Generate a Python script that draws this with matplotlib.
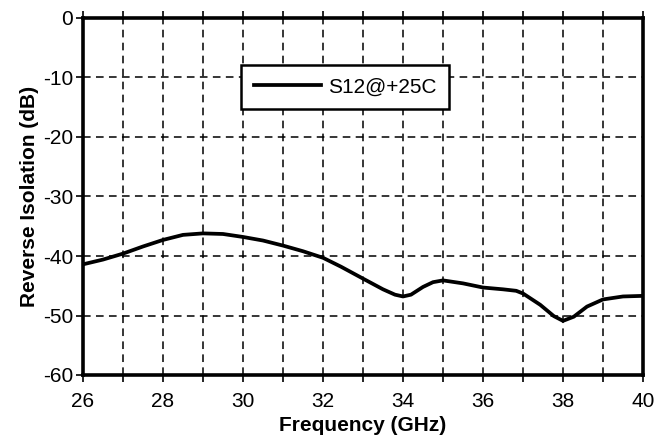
import numpy as np
import matplotlib.pyplot as plt

plt.rcParams['font.family'] = ['Liberation Sans', 'DejaVu Sans']
plt.rcParams['axes.unicode_minus'] = False

# S12 (GHz, dB)
freq = [26, 26.5, 27, 27.5, 28, 28.5, 29, 29.5, 30, 30.5, 31, 31.5, 32,
        32.45, 33, 33.5, 33.8, 34, 34.2, 34.5, 34.75, 35, 35.5, 36, 36.5,
        36.83, 37, 37.43, 37.77, 38, 38.27, 38.6, 39, 39.5, 40]
s12 = [-41.4, -40.6, -39.6, -38.4, -37.3, -36.45, -36.2, -36.3, -36.8, -37.4,
       -38.25, -39.2, -40.3, -41.8, -43.8, -45.6, -46.5, -46.8, -46.5, -45.2,
       -44.4, -44.1, -44.6, -45.3, -45.6, -45.85, -46.3, -48.2, -50.1, -50.9,
       -50.2, -48.5, -47.3, -46.8, -46.7]
xticks = [26, 28, 30, 32, 34, 36, 38, 40]
yticks = [0, -10, -20, -30, -40, -50, -60]

fig = plt.figure(figsize=(6.55, 4.45), dpi=100)
ax = fig.add_axes([83 / 655, 70 / 445, 560 / 655, 357 / 445])

ax.plot(freq, s12, color='black', lw=2.7, label='S12@+25C', zorder=3,
        solid_joinstyle='round')

ax.set_xlim(26, 40)
ax.set_ylim(-60, 0)
ax.set_xticks(xticks)
ax.set_xticks(np.arange(26, 41, 1), minor=True)
ax.set_yticks(yticks)
ax.tick_params(axis='both', labelsize=15, direction='out', width=1.2, length=5)
ax.tick_params(axis='x', which='both', top=True, labeltop=False, pad=7)
ax.tick_params(axis='x', which='minor', width=1.2, length=5)
ax.tick_params(axis='y', pad=2)
ax.grid(True, which='both', color='black', ls=(0, (5, 3.5)), lw=1.1)

for s in ax.spines.values():
    s.set_linewidth(2.6)

ax.set_xlabel('Frequency (GHz)', fontsize=15, fontweight='bold', labelpad=4)
ax.set_ylabel('Reverse Isolation (dB)', fontsize=15, fontweight='bold', labelpad=3)

leg = ax.legend(loc='center', bbox_to_anchor=(0.468, 0.807), fontsize=15,
                fancybox=False, framealpha=1, edgecolor='black',
                handlelength=3.2, handletextpad=0.35, borderpad=0.6)
leg.get_frame().set_linewidth(1.8)

fig.savefig('out.png', dpi=100)
